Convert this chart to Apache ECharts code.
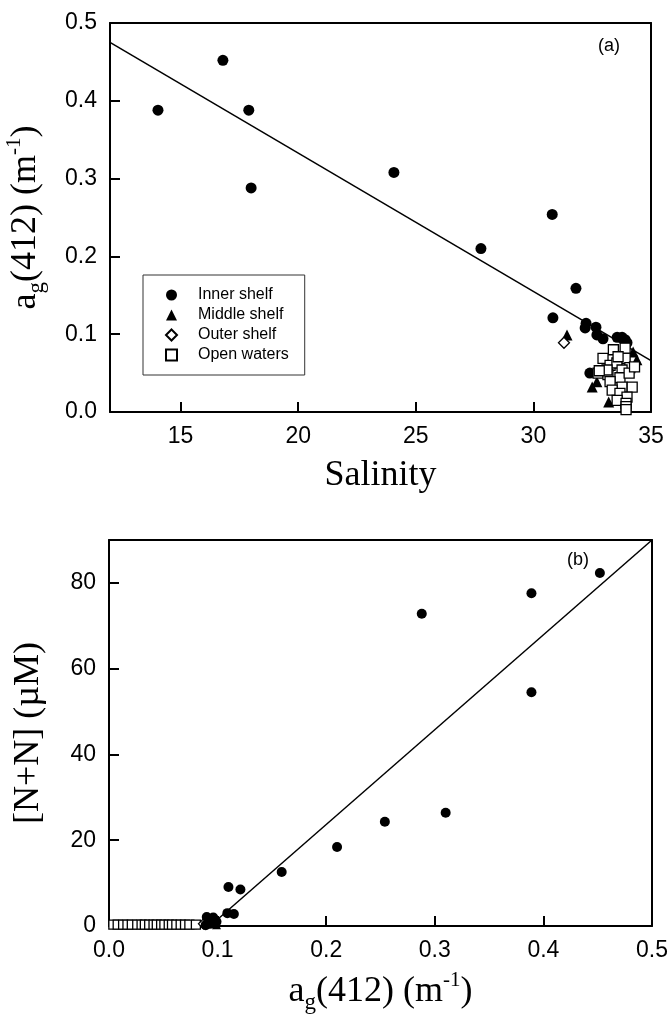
<html>
<head>
<meta charset="utf-8">
<script src="https://cdn.jsdelivr.net/npm/echarts@6/dist/echarts.min.js"></script>
</head>
<body style="margin:0;background:#fff">
<div id="main" style="width:669px;height:1014px;"></div>
<script type="text/javascript">
// (a) salinity vs ag(412)
var innerSal = [[14.04,0.388],[16.8,0.452],[17.9,0.388],[18.0,0.288],[24.07,0.308],[27.77,0.21],[30.8,0.254],
  [31.81,0.159],[30.83,0.121],[32.24,0.114],[32.2,0.108],[32.66,0.109],[32.7,0.099],[32.96,0.094],
  [33.56,0.096],[33.77,0.096],[33.9,0.093],[33.98,0.089],[32.4,0.050]];
var middleSal = [[31.43,0.099],[34.24,0.077],[34.4,0.067],[32.5,0.032],[32.7,0.039],[33.2,0.013],[33.55,0.019]];
var outerSal = [[31.3,0.089]];
var openSal = [[33.4,0.080],[33.9,0.069],[32.96,0.069],[33.26,0.060],[33.55,0.063],[34.1,0.057],[33.77,0.054],
  [32.75,0.050],[33.17,0.048],[33.68,0.044],[34.07,0.050],[33.26,0.039],[33.77,0.032],[34.2,0.032],
  [33.35,0.028],[33.68,0.024],[33.98,0.019],[33.56,0.015],[33.94,0.011],[33.94,0.007],[33.94,0.003],
  [33.9,0.082],[33.13,0.054],[33.6,0.071],[34.3,0.058],[32.8,0.053]];
var fitSal = [[12,0.475],[35,0.066]];

// (b) ag(412) vs [N+N]
var innerNN = [[0.452,82.3],[0.389,77.6],[0.288,72.8],[0.389,54.5],[0.31,26.4],[0.254,24.3],[0.21,18.4],
  [0.159,12.6],[0.110,9.1],[0.121,8.5],[0.109,3.0],[0.115,2.8],[0.09,2.1],[0.096,2.0],[0.094,0.7],
  [0.089,0.2],[0.099,1.0],[0.093,0.5]];
var middleNN = [[0.099,0.3],[0.077,0.3],[0.067,0.3],[0.032,0.2],[0.039,0.2],[0.013,0.2],[0.019,0.2]];
var outerNN = [[0.087,0.5]];
var openNN = [[0.004,0.3],[0.008,0.3],[0.013,0.3],[0.017,0.3],[0.021,0.3],[0.026,0.3],[0.03,0.3],[0.033,0.3],
  [0.037,0.3],[0.041,0.3],[0.044,0.3],[0.048,0.3],[0.051,0.3],[0.055,0.3],[0.058,0.3],[0.062,0.3],
  [0.066,0.3],[0.07,0.3],[0.074,0.3],[0.08,0.3]];
var fitNN = [[0.093,0],[0.5,90]];

var salTicks = [15,20,25,30,35];
var agTicks = [0,0.1,0.2,0.3,0.4,0.5];
var nnTicks = [0,20,40,60,80];

var myChart = echarts.init(document.getElementById('main'));

var serif = 'Liberation Serif';
var sans = 'Liberation Sans';
var agName = '{n|a}{s|g}{n|(412) (m}{p|-1}{n|)}';
var agRich = {
  n: {fontFamily: serif, fontSize: 36, lineHeight: 44, color: '#000'},
  s: {fontFamily: serif, fontSize: 23, lineHeight: 22, verticalAlign: 'bottom', color: '#000'},
  p: {fontFamily: serif, fontSize: 21, lineHeight: 22, verticalAlign: 'top', color: '#000'}
};
var lineStyle = {show: true, onZero: false, lineStyle: {color: '#000', width: 2}};
var labelStyle = {color: '#000', fontFamily: sans, fontSize: 23, margin: 13};

function ticks(vals) {
  return {show: true, inside: true, length: 10, customValues: vals, lineStyle: {color: '#000', width: 2}};
}
function fixed1(v) { return v.toFixed(1); }

// plain axis used only to close the frame on top / right
function frameAxis(grid, pos, min, max) {
  return {
    type: 'value', gridIndex: grid, position: pos, min: min, max: max,
    axisLine: lineStyle, axisTick: {show: false}, axisLabel: {show: false}, splitLine: {show: false}
  };
}

function scatter(name, data, xi, symbol, size, filled) {
  return {
    type: 'scatter', name: name, data: data, xAxisIndex: xi, yAxisIndex: xi,
    symbol: symbol, symbolSize: size,
    itemStyle: filled ? {color: '#000', opacity: 1} : {color: '#fff', borderColor: '#000', borderWidth: 1.3, opacity: 1},
    z: 3
  };
}

var option = {
  animation: false,
  backgroundColor: '#fff',
  grid: [
    {left: 110, top: 23, width: 541, height: 389, outerBoundsMode: 'none'},
    {left: 109, top: 540, width: 543, height: 386, outerBoundsMode: 'none'}
  ],
  xAxis: [
    {
      type: 'value', gridIndex: 0, position: 'bottom', min: 12, max: 35,
      name: 'Salinity', nameLocation: 'middle', nameGap: 46,
      nameTextStyle: {fontFamily: serif, fontSize: 36, color: '#000'},
      axisLine: lineStyle, splitLine: {show: false},
      axisTick: ticks(salTicks),
      axisLabel: Object.assign({customValues: salTicks}, labelStyle)
    },
    {
      type: 'value', gridIndex: 1, position: 'bottom', min: 0, max: 0.5,
      name: agName, nameLocation: 'middle', nameGap: 44,
      nameTextStyle: {rich: agRich},
      axisLine: lineStyle, splitLine: {show: false},
      axisTick: ticks(agTicks),
      axisLabel: Object.assign({customValues: agTicks, formatter: fixed1}, labelStyle)
    },
    frameAxis(0, 'top', 12, 35),
    frameAxis(1, 'top', 0, 0.5)
  ],
  yAxis: [
    {
      type: 'value', gridIndex: 0, position: 'left', min: 0, max: 0.5,
      name: agName, nameLocation: 'middle', nameGap: 62,
      nameTextStyle: {rich: agRich},
      axisLine: lineStyle, splitLine: {show: false},
      axisTick: ticks(agTicks),
      axisLabel: Object.assign({customValues: agTicks, formatter: fixed1}, labelStyle)
    },
    {
      type: 'value', gridIndex: 1, position: 'left', min: 0, max: 90,
      name: '[N+N] (µM)', nameLocation: 'middle', nameGap: 62,
      nameTextStyle: {fontFamily: serif, fontSize: 36, color: '#000'},
      axisLine: lineStyle, splitLine: {show: false},
      axisTick: ticks(nnTicks),
      axisLabel: Object.assign({customValues: nnTicks}, labelStyle)
    },
    frameAxis(0, 'right', 0, 0.5),
    frameAxis(1, 'right', 0, 90)
  ],
  legend: {
    orient: 'vertical', left: 143, top: 275,
    padding: [12, 16, 12, 22], itemGap: 4, itemWidth: 11, itemHeight: 11,
    borderColor: '#333', borderWidth: 1,
    data: ['Inner shelf', 'Middle shelf', 'Outer shelf', 'Open waters'],
    formatter: function (name) { return '{t|' + name + '}'; },
    textStyle: {
      color: '#000', fontFamily: sans, fontSize: 16,
      rich: {t: {fontFamily: sans, fontSize: 16, lineHeight: 16, padding: [0, 0, 0, 16], color: '#000'}}
    }
  },
  graphic: [
    {type: 'text', left: 598, top: 37, style: {text: '(a)', fontFamily: sans, fontSize: 18, fill: '#000'}},
    {type: 'text', left: 567, top: 551, style: {text: '(b)', fontFamily: sans, fontSize: 18, fill: '#000'}}
  ],
  series: [
    {type: 'line', data: fitSal, xAxisIndex: 0, yAxisIndex: 0, symbol: 'none', silent: true,
      lineStyle: {color: '#000', width: 1.5}, z: 2},
    scatter('Inner shelf', innerSal, 0, 'circle', 11, true),
    scatter('Middle shelf', middleSal, 0, 'triangle', 11, true),
    scatter('Outer shelf', outerSal, 0, 'diamond', 11, false),
    scatter('Open waters', openSal, 0, 'rect', 10, false),

    {type: 'line', data: fitNN, xAxisIndex: 1, yAxisIndex: 1, symbol: 'none', silent: true,
      lineStyle: {color: '#000', width: 1.5}, z: 2},
    scatter('Middle shelf', middleNN, 1, 'triangle', 9, true),
    scatter('Open waters', openNN, 1, 'rect', 9, false),
    scatter('Outer shelf', outerNN, 1, 'diamond', 10, false),
    scatter('Inner shelf', innerNN, 1, 'circle', 10, true)
  ]
};

myChart.setOption(option);
</script>
</body>
</html>
